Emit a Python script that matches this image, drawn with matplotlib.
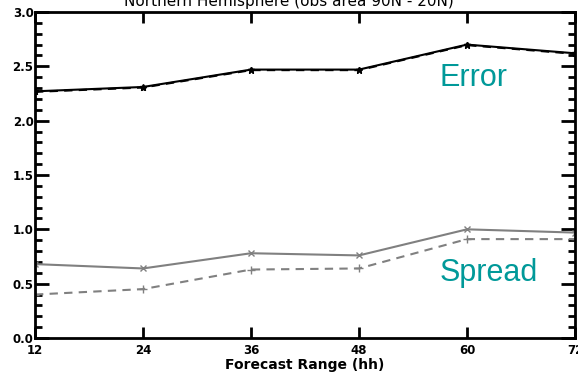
import matplotlib
matplotlib.use("Agg")
import matplotlib.pyplot as plt
from matplotlib.ticker import MultipleLocator

forecast_hours = [12, 24, 36, 48, 60, 72]
error_a = [2.27, 2.31, 2.47, 2.47, 2.70, 2.62]
error_b = [2.265, 2.305, 2.465, 2.465, 2.695, 2.615]
spread_a = [0.68, 0.64, 0.78, 0.76, 1.00, 0.97]
spread_b = [0.40, 0.45, 0.63, 0.64, 0.91, 0.91]
x_ticks = [12, 24, 36, 48, 60, 72]
y_ticks = [0.0, 0.5, 1.0, 1.5, 2.0, 2.5, 3.0]

fig = plt.figure(figsize=(5.78, 3.77), dpi=100)
ax = fig.add_axes([35/578, 39/377, 540/578, 326/377])

ax.plot(forecast_hours, error_a, color='black', lw=1.5, ls='-', marker='*', ms=5)
ax.plot(forecast_hours, error_b, color='black', lw=1.5, ls=(0, (4, 3)), marker='*', ms=4)
ax.plot(forecast_hours, spread_a, color='#808080', lw=1.5, ls='-', marker='x', ms=4)
ax.plot(forecast_hours, spread_b, color='#808080', lw=1.5, ls=(0, (4, 3)), marker='+', ms=6)

ax.set_xlim(12, 72)
ax.set_ylim(0, 3.0)
ax.set_xticks(x_ticks)
ax.set_yticks(y_ticks)
ax.set_xticklabels([str(v) for v in x_ticks])
ax.set_yticklabels([f"{v:.1f}" for v in y_ticks])
ax.yaxis.set_minor_locator(MultipleLocator(0.1))

ax.tick_params(axis='both', which='major', direction='in', top=True, right=True,
               width=2, labelsize=8.5)
ax.tick_params(axis='y', which='major', length=10)
ax.tick_params(axis='x', which='major', length=8)
ax.tick_params(axis='y', which='minor', direction='in', right=True, length=5, width=2)
for lbl in ax.get_xticklabels() + ax.get_yticklabels():
    lbl.set_fontweight('bold')
ax.tick_params(axis='y', pad=1)
ax.tick_params(axis='x', pad=4)
for s in ax.spines.values():
    s.set_linewidth(2)

ax.set_xlabel("Forecast Range (hh)", fontsize=10, fontweight='bold', labelpad=1)
fig.text(0.5, 1 - 6/377, "Northern Hemisphere (obs area 90N - 20N)", ha='center',
         va='baseline', fontsize=11)

ax.text(473/578, 1 - 78/377, "Error", transform=fig.transFigure, color='#009999',
        fontsize=22, family='Liberation Sans', ha='center', va='center')
ax.text(489/578, 1 - 273/377, "Spread", transform=fig.transFigure, color='#009999',
        fontsize=22, family='Liberation Sans', ha='center', va='center')

fig.savefig("out.png", dpi=100)
